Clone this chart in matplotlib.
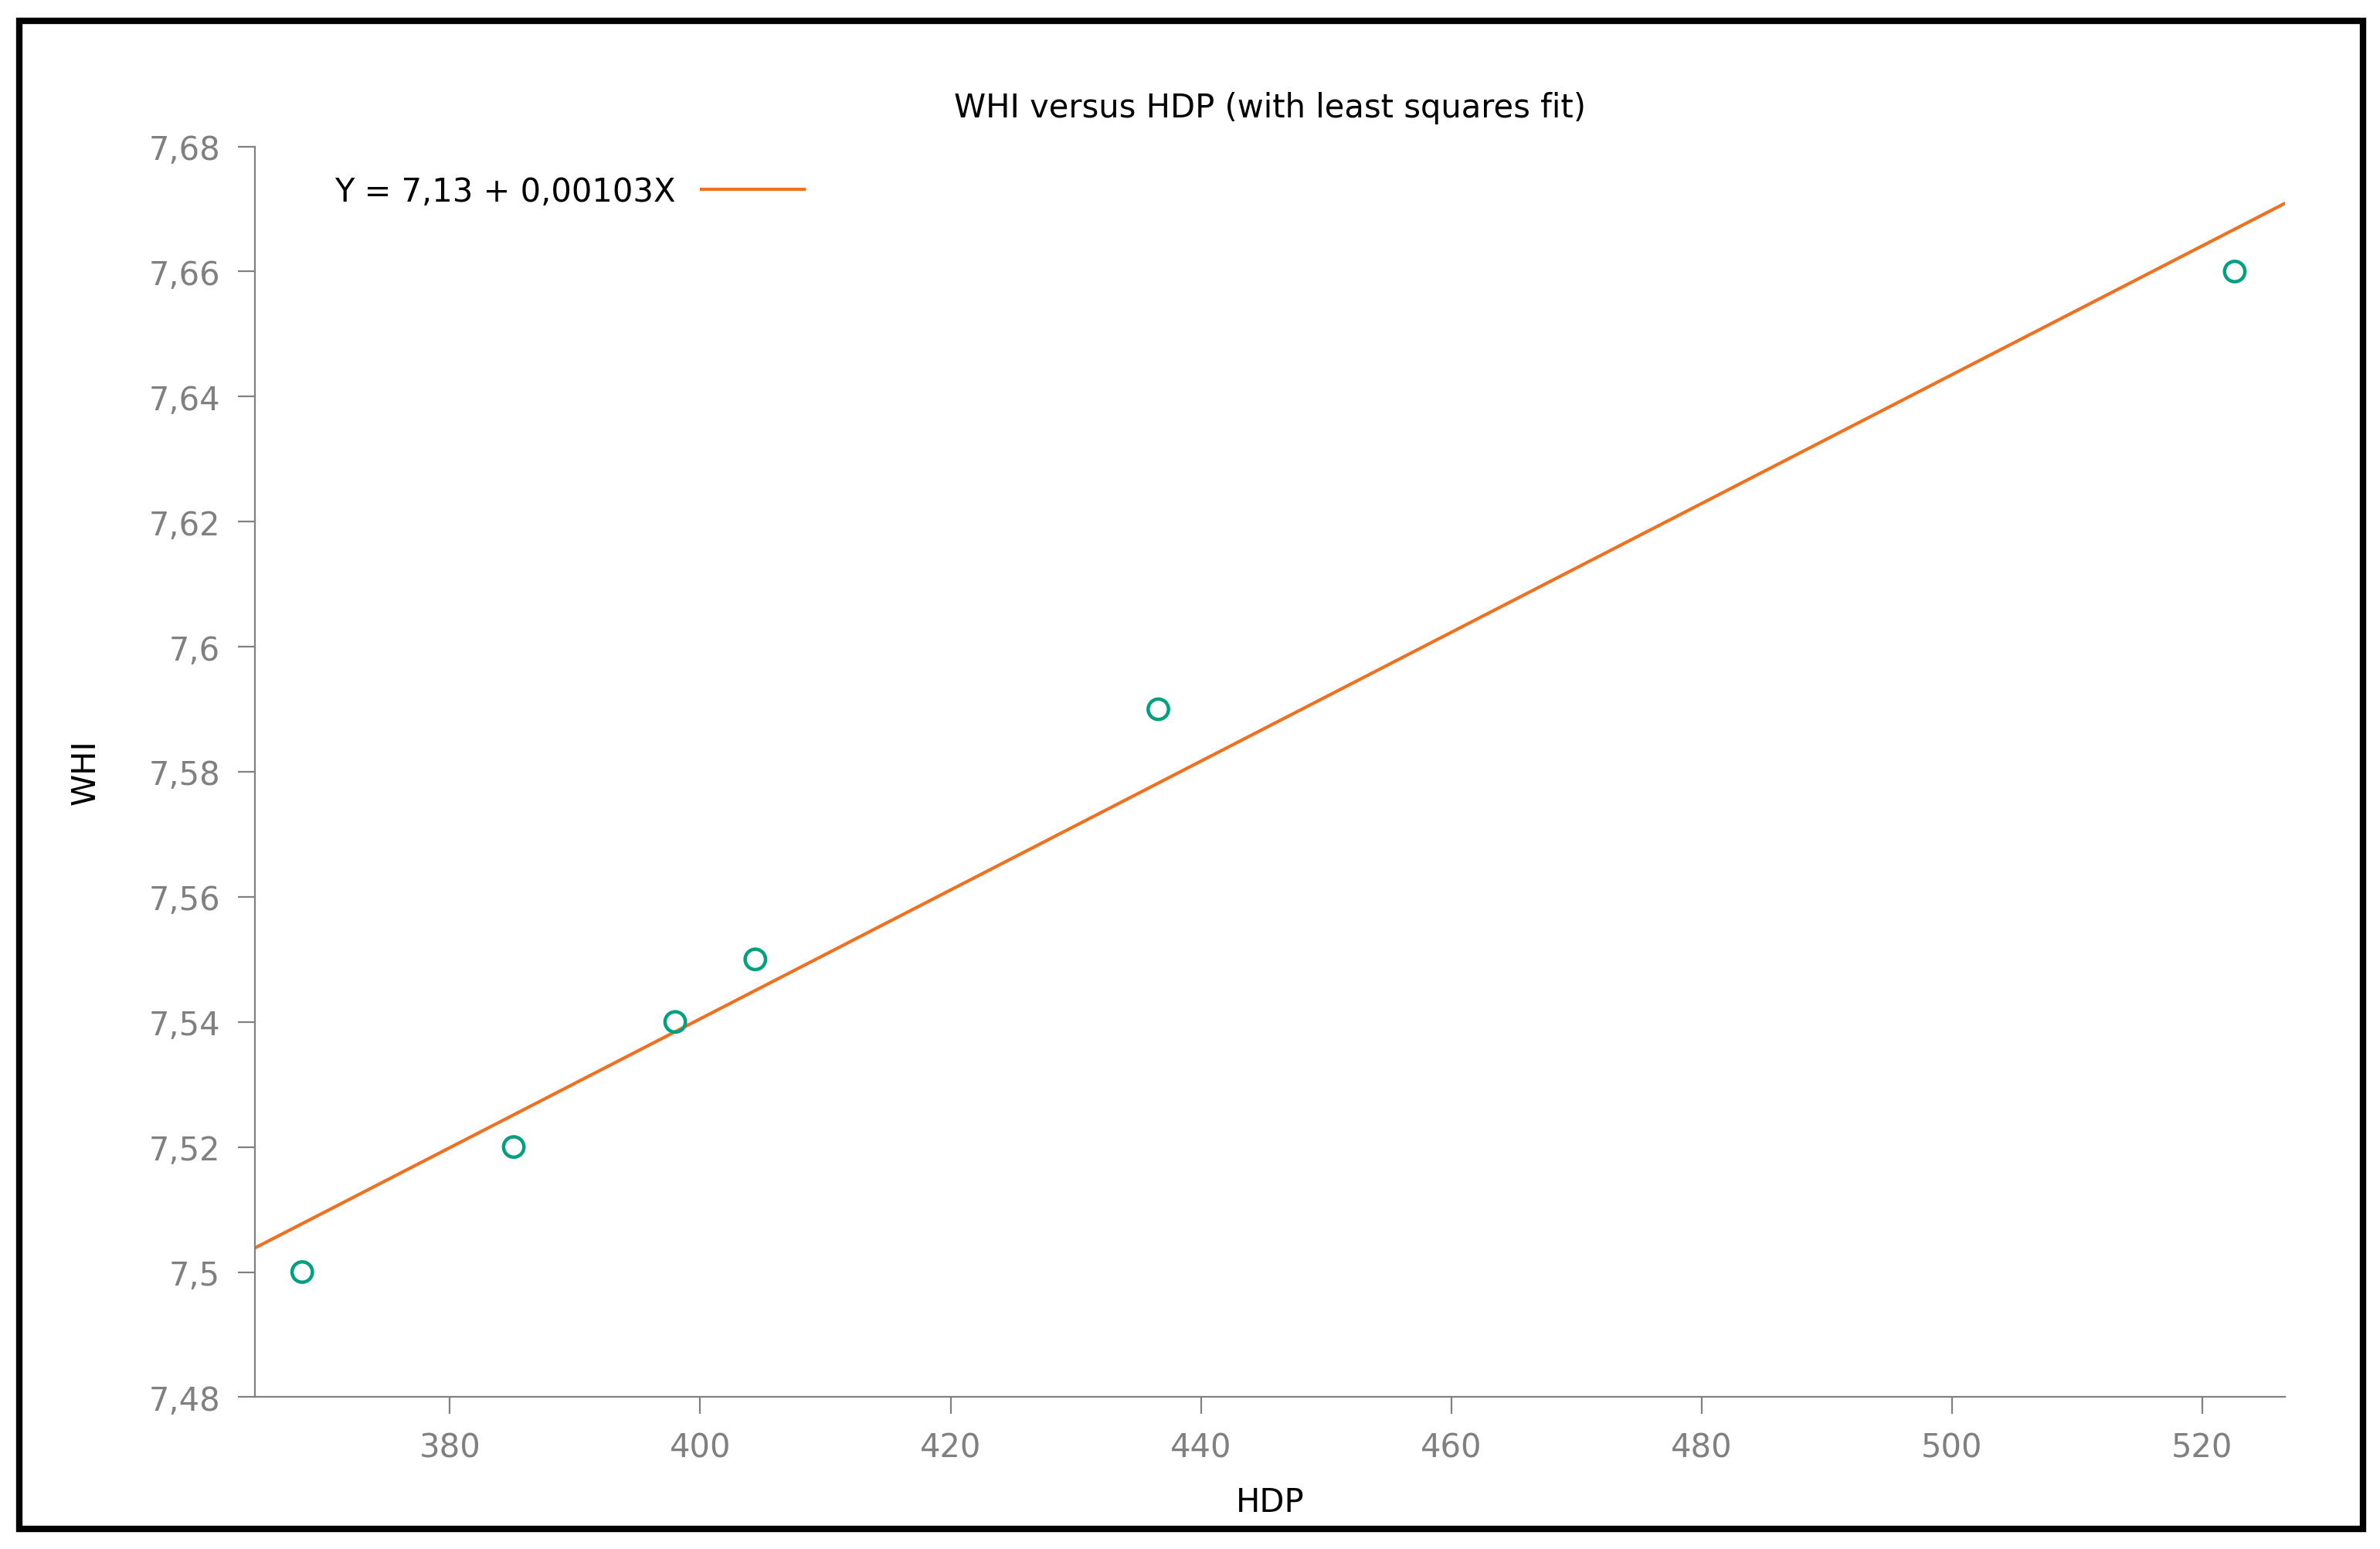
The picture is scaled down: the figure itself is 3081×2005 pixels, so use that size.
import matplotlib.pyplot as plt
import numpy as np
from matplotlib.patches import Rectangle
from matplotlib.ticker import FuncFormatter

hdp = [368.2, 385.1, 398.0, 404.4, 436.6, 522.6]
whi = [7.50, 7.52, 7.54, 7.55, 7.59, 7.66]
intercept = 7.1285
slope = 0.00103
xlim = (364.4, 526.6)

fig = plt.figure(figsize=(15.405, 10.03), dpi=200)
ax = fig.add_axes([0.107, 0.098, 0.853, 0.807])

xs = np.array(xlim)
ax.plot(xs, intercept + slope * xs, color="#f07020", lw=1.5,
        label="Y = 7,13 + 0,00103X")
ax.scatter(hdp, whi, s=90, facecolors="none", edgecolors="#00a080", linewidths=1.6, zorder=3)

ax.set_xlim(*xlim)
ax.set_ylim(7.48, 7.68)
ax.set_xticks(range(380, 521, 20))
ax.set_yticks(np.arange(7.48, 7.681, 0.02))
ax.yaxis.set_major_formatter(FuncFormatter(lambda v, p: ("%g" % round(v, 2)).replace(".", ",")))

for s in ["top", "right"]:
    ax.spines[s].set_visible(False)
for s in ["left", "bottom"]:
    ax.spines[s].set_color("#808080")
ax.tick_params(direction="out", length=8, color="#808080", labelcolor="#808080",
               labelsize=15, pad=8)

ax.set_title("WHI versus HDP (with least squares fit)", fontsize=15, pad=14)
ax.set_xlabel("HDP", fontsize=15, labelpad=10)
ax.set_ylabel("WHI", fontsize=15, labelpad=22)
ax.legend(loc="upper left", frameon=False, markerfirst=False, fontsize=15,
          handlelength=3.2, bbox_to_anchor=(0.025, 1.0))

fig.patches.append(Rectangle((0.008, 0.013), 0.985, 0.973, transform=fig.transFigure,
                             fill=False, edgecolor="black", lw=3))
fig.savefig("out.png", dpi=200)
